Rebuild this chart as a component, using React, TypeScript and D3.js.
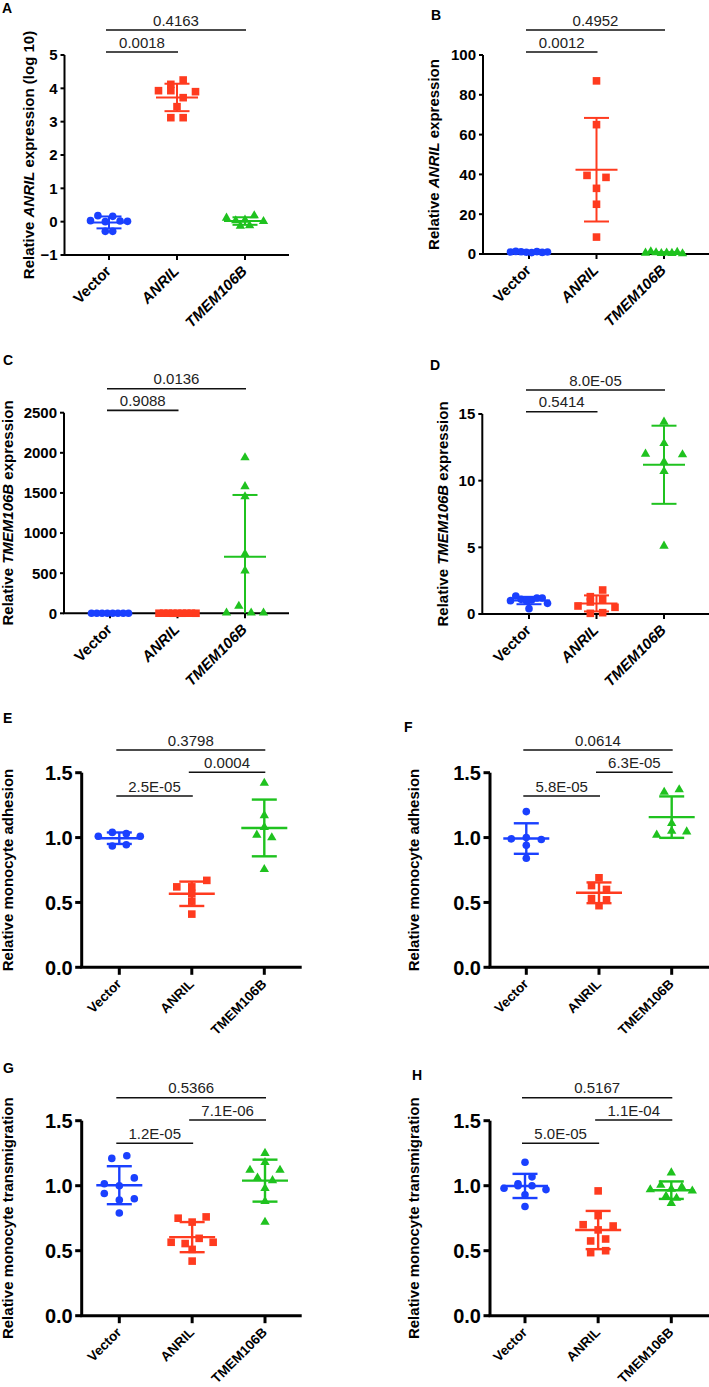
import React from 'react';
import * as d3 from 'd3';

const categories = ['Vector', 'ANRIL', 'TMEM106B'];
const colors = ['#1a40ff', '#ff3b1f', '#1fc21f'];
const shapes = ['circle', 'square', 'triangle'];

// Panel A: Relative ANRIL expression (log 10)
const aVector = [0.03, 0.18, 0.0, 0.16, 0.02, 0.01, -0.29, -0.29];
const aANRIL = [3.93, 3.93, 4.12, 4.25, 3.72, 3.9, 3.45, 3.12, 3.12];
const aTMEM = [0.11, -0.13, 0.03, 0.05, 0.18, -0.12, 0.01];
const aTicks = [-1, 0, 1, 2, 3, 4, 5];
const aP = ['0.0018', '0.4163'];

// Panel B: Relative ANRIL expression
const bVector = [1.0, 1.3, 1.1, 0.9, 0.7, 1.2, 0.8, 1.0];
const bANRIL = [87, 65, 39.5, 38.5, 33, 25, 8.5];
const bTMEM = [0.5, 1.2, 0.7, 0.3, 0.6, 0.4, 0.9, 0.2];
const bTicks = [0, 20, 40, 60, 80, 100];
const bP = ['0.0012', '0.4952'];

// Panel C: Relative TMEM106B expression
const cVector = [1.0, 1.1, 0.9, 1.2, 0.8, 1.0, 0.95, 1.05];
const cANRIL = [0.9, 1.1, 1.3, 0.7, 1.0, 0.8, 1.2, 1.0, 0.6];
const cTMEM = [1940, 1580, 1455, 740, 530, 5, 90, 5, 5];
const cTicks = [0, 500, 1000, 1500, 2000, 2500];
const cP = ['0.9088', '0.0136'];

// Panel D: Relative TMEM106B expression
const dVector = [1.0, 1.35, 1.1, 1.0, 1.05, 1.2, 1.2, 0.8, 0.4];
const dANRIL = [1.3, 0.6, 0.05, 0.9, 1.8, 0.1, 1.1, 0.5];
const dTMEM = [14.4, 12.8, 12.0, 11.4, 11.95, 10.7, 5.1];
const dTicks = [0, 5, 10, 15];
const dP = ['0.5414', '8.0E-05'];

// Panel E: Relative monocyte adhesion
const eVector = [1.01, 1.04, 1.03, 1.01, 0.935, 0.945];
const eANRIL = [0.62, 0.62, 0.67, 0.57, 0.51, 0.41];
const eTMEM = [1.42, 1.17, 1.08, 1.02, 1.0, 0.755];
const eP = ['2.5E-05', '0.0004', '0.3798'];

// Panel F: Relative monocyte adhesion
const fVector = [1.2, 0.99, 1.0, 0.985, 0.94, 0.84];
const fANRIL = [0.69, 0.63, 0.6, 0.53, 0.475, 0.52];
const fTMEM = [1.35, 1.37, 1.11, 1.02, 1.05, 1.045];
const fP = ['5.8E-05', '6.3E-05', '0.0614'];

// Panel G: Relative monocyte transmigration
const gVector = [1.21, 1.23, 1.015, 1.0, 1.06, 0.94, 0.89, 0.9, 0.79];
const gANRIL = [0.75, 0.72, 0.76, 0.565, 0.555, 0.595, 0.565, 0.51, 0.42];
const gTMEM = [1.25, 1.12, 1.18, 1.12, 1.06, 1.04, 0.98, 0.88, 0.72];
const gP = ['1.2E-05', '7.1E-06', '0.5366'];

// Panel H: Relative monocyte transmigration
const hVector = [1.18, 0.98, 1.015, 1.0, 1.0, 0.97, 1.068, 0.93, 0.84];
const hANRIL = [0.96, 0.77, 0.7, 0.66, 0.69, 0.575, 0.59, 0.485, 0.5];
const hTMEM = [1.1, 0.97, 1.005, 0.975, 0.99, 0.96, 0.92, 0.905, 0.865];
const hP = ['5.0E-05', '1.1E-04', '0.5167'];

const monoTicks = [0, 0.5, 1.0, 1.5];

const FONT = "'Liberation Sans', Arial, Helvetica, sans-serif";

type TitlePart = { text: string; italic?: boolean };
interface Bracket { from: number; to: number; label: string; offset: number }
interface Panel {
  letter: string; letterX: number; letterY: number;
  left: number; right: number; top: number; bottom: number;
  catFirst: number; catLast: number;
  domain: [number, number]; ticks: number[]; fmt: (v: number) => string;
  series: number[][];
  brackets: Bracket[];
  title: TitlePart[];
  titleX: number;
  small: boolean;
  vth: number;
}

const fmtInt = d3.format('d');
const fmt1 = d3.format('.1f');

const panels: Panel[] = [
  {
    letter: 'A', letterX: 2, letterY: 13, left: 64.5, right: 289, top: 55, bottom: 255,
    catFirst: 109, catLast: 245, domain: [-1, 5], ticks: aTicks, fmt: fmtInt,
    series: [aVector, aANRIL, aTMEM],
    brackets: [{ from: 0, to: 1, label: aP[0], offset: -3 }, { from: 0, to: 2, label: aP[1], offset: -25 }],
    title: [{ text: 'Relative ' }, { text: 'ANRIL', italic: true }, { text: ' expression (log 10)' }],
    titleX: 34, small: true, vth: 8.5,
  },
  {
    letter: 'B', letterX: 431, letterY: 20, left: 483, right: 709, top: 55, bottom: 254,
    catFirst: 529, catLast: 664, domain: [0, 100], ticks: bTicks, fmt: fmtInt,
    series: [bVector, bANRIL, bTMEM],
    brackets: [{ from: 0, to: 1, label: bP[0], offset: -3 }, { from: 0, to: 2, label: bP[1], offset: -25 }],
    title: [{ text: 'Relative ' }, { text: 'ANRIL', italic: true }, { text: ' expression' }],
    titleX: 439, small: true, vth: 8.5,
  },
  {
    letter: 'C', letterX: 3, letterY: 365, left: 64, right: 289, top: 412.7, bottom: 613.3,
    catFirst: 110, catLast: 245, domain: [0, 2500], ticks: cTicks, fmt: fmtInt,
    series: [cVector, cANRIL, cTMEM],
    brackets: [{ from: 0, to: 1, label: cP[0], offset: -2.3 }, { from: 0, to: 2, label: cP[1], offset: -24 }],
    title: [{ text: 'Relative ' }, { text: 'TMEM106B', italic: true }, { text: ' expression' }],
    titleX: 12.5, small: true, vth: 8.5,
  },
  {
    letter: 'D', letterX: 430, letterY: 370, left: 482.3, right: 709, top: 414, bottom: 614,
    catFirst: 529, catLast: 664, domain: [0, 15], ticks: dTicks, fmt: fmtInt,
    series: [dVector, dANRIL, dTMEM],
    brackets: [{ from: 0, to: 1, label: dP[0], offset: -2.3 }, { from: 0, to: 2, label: dP[1], offset: -24 }],
    title: [{ text: 'Relative ' }, { text: 'TMEM106B', italic: true }, { text: ' expression' }],
    titleX: 448, small: true, vth: 8.5,
  },
  {
    letter: 'E', letterX: 3, letterY: 723, left: 81.7, right: 301.7, top: 772.7, bottom: 967.3,
    catFirst: 119.3, catLast: 264.3, domain: [0, 1.5], ticks: monoTicks, fmt: fmt1,
    series: [eVector, eANRIL, eTMEM],
    brackets: [{ from: 0, to: 1, label: eP[0], offset: 23.3 }, { from: 1, to: 2, label: eP[1], offset: -0.4 }, { from: 0, to: 2, label: eP[2], offset: -22.7 }],
    title: [{ text: 'Relative monocyte adhesion' }],
    titleX: 12.5, small: false, vth: 7,
  },
  {
    letter: 'F', letterX: 404, letterY: 732, left: 490, right: 709, top: 772.7, bottom: 967.3,
    catFirst: 526.3, catLast: 671.7, domain: [0, 1.5], ticks: monoTicks, fmt: fmt1,
    series: [fVector, fANRIL, fTMEM],
    brackets: [{ from: 0, to: 1, label: fP[0], offset: 23.3 }, { from: 1, to: 2, label: fP[1], offset: -0.4 }, { from: 0, to: 2, label: fP[2], offset: -22.7 }],
    title: [{ text: 'Relative monocyte adhesion' }],
    titleX: 419, small: false, vth: 7,
  },
  {
    letter: 'G', letterX: 3, letterY: 1073, left: 81.7, right: 301.7, top: 1120.7, bottom: 1315.7,
    catFirst: 119.3, catLast: 265, domain: [0, 1.5], ticks: monoTicks, fmt: fmt1,
    series: [gVector, gANRIL, gTMEM],
    brackets: [{ from: 0, to: 1, label: gP[0], offset: 22.6 }, { from: 1, to: 2, label: gP[1], offset: -0.7 }, { from: 0, to: 2, label: gP[2], offset: -23 }],
    title: [{ text: 'Relative monocyte transmigration' }],
    titleX: 12.5, small: false, vth: 8,
  },
  {
    letter: 'H', letterX: 412, letterY: 1080, left: 490, right: 709, top: 1120.7, bottom: 1315.7,
    catFirst: 525, catLast: 671.3, domain: [0, 1.5], ticks: monoTicks, fmt: fmt1,
    series: [hVector, hANRIL, hTMEM],
    brackets: [{ from: 0, to: 1, label: hP[0], offset: 22.6 }, { from: 1, to: 2, label: hP[1], offset: -0.7 }, { from: 0, to: 2, label: hP[2], offset: -23 }],
    title: [{ text: 'Relative monocyte transmigration' }],
    titleX: 419, small: false, vth: 7,
  },
];

function swarm(values: number[], y: (v: number) => number, vth: number, sDef: number, W: number): number[] {
  const idx = values.map((_, i) => i).sort((a, b) => values[b] - values[a]);
  const rows: number[][] = [];
  let startY = -Infinity;
  for (const i of idx) {
    const py = y(values[i]);
    if (rows.length && py - startY < vth) rows[rows.length - 1].push(i);
    else { rows.push([i]); startY = py; }
  }
  const maxN = d3.max(rows, r => r.length) ?? 1;
  const s = maxN > 1 ? Math.min(sDef, W / (maxN - 1)) : sDef;
  const off = new Array(values.length).fill(0);
  rows.forEach(r => {
    r.sort((a, b) => a - b);
    r.forEach((i, k) => { off[i] = (k - (r.length - 1) / 2) * s; });
  });
  return off;
}

const symCircle = d3.symbol().type(d3.symbolCircle).size(Math.PI * 3.8 * 3.8);
const symSquare = d3.symbol().type(d3.symbolSquare).size(7.6 * 7.6);
const symTri = d3.symbol().type(d3.symbolTriangle).size(38);

function markerPath(shape: string): string {
  if (shape === 'circle') return symCircle() as string;
  if (shape === 'square') return symSquare() as string;
  return symTri() as string;
}

function PanelView({ p }: { p: Panel }) {
  const y = d3.scaleLinear().domain(p.domain).range([p.bottom, p.top]);
  const x = d3.scaleLinear().domain([0, categories.length - 1]).range([p.catFirst, p.catLast]);
  const st = p.small
    ? { tickFont: 15, xFont: 15, axisW: 2, tickLen: 4, sDef: 19, W: 37, meanHalf: 21, capHalf: 12.5, ebW: 2, labelGap: 7 }
    : { tickFont: 20, xFont: 13.5, axisW: 3, tickLen: 6.5, sDef: 15, W: 42, meanHalf: 23, capHalf: 12.5, ebW: 2.4, labelGap: 9 };
  const cy = (p.top + p.bottom) / 2;
  const yMin = p.domain[0];
  return (
    <g>
      <text x={p.letterX} y={p.letterY} fontSize={14} fontWeight="bold" fontFamily={FONT}>{p.letter}</text>
      <text transform={`translate(${p.titleX},${cy}) rotate(-90)`} textAnchor="middle" fontSize={15}
        fontWeight="bold" fontFamily={FONT} style={{ whiteSpace: 'pre' }}>
        {p.title.map((t, i) => (
          <tspan key={i} fontStyle={t.italic ? 'italic' : 'normal'}>{t.text}</tspan>
        ))}
      </text>
      {/* y axis */}
      <line x1={p.left} x2={p.left} y1={p.top} y2={p.bottom} stroke="#000" strokeWidth={st.axisW} />
      {p.ticks.map(t => (
        <g key={t}>
          <line x1={p.left - st.tickLen} x2={p.left} y1={y(t)} y2={y(t)} stroke="#000" strokeWidth={st.axisW} />
          <text x={p.left - st.labelGap} y={y(t)} dy="0.36em" textAnchor="end" fontSize={st.tickFont}
            fontWeight="bold" fontFamily={FONT}>{p.fmt(t)}</text>
        </g>
      ))}
      {/* x axis */}
      <line x1={p.left - st.axisW / 2} x2={p.right} y1={p.bottom} y2={p.bottom} stroke="#000" strokeWidth={st.axisW} />
      {categories.map((c, i) => (
        <g key={c}>
          <line x1={x(i)} x2={x(i)} y1={p.bottom} y2={p.bottom + st.tickLen + 1} stroke="#000" strokeWidth={st.axisW} />
          <text transform={`translate(${x(i) + 3},${p.bottom + (p.small ? 17 : 17.5)}) rotate(-45)`} textAnchor="end"
            fontSize={st.xFont} fontWeight="bold" fontStyle={p.small && i > 0 ? 'italic' : 'normal'}
            fontFamily={FONT}>{c}</text>
        </g>
      ))}
      {/* data */}
      {p.series.map((vals, si) => {
        const offs = swarm(vals, y, p.vth, st.sDef, st.W);
        const m = d3.mean(vals) as number;
        const sd = d3.deviation(vals) as number;
        const lo = m - sd;
        const loClipped = lo < yMin;
        const cx = x(si);
        const col = colors[si];
        const path = markerPath(shapes[si]);
        return (
          <g key={si}>
            {vals.map((v, k) => (
              <path key={k} d={path} transform={`translate(${cx + offs[k]},${y(v)})`} fill={col} />
            ))}
            <line x1={cx - st.meanHalf} x2={cx + st.meanHalf} y1={y(m)} y2={y(m)} stroke={col} strokeWidth={st.ebW} />
            <line x1={cx} x2={cx} y1={y(loClipped ? yMin : lo)} y2={y(m + sd)} stroke={col} strokeWidth={st.ebW} />
            <line x1={cx - st.capHalf} x2={cx + st.capHalf} y1={y(m + sd)} y2={y(m + sd)} stroke={col} strokeWidth={st.ebW} />
            {!loClipped && (
              <line x1={cx - st.capHalf} x2={cx + st.capHalf} y1={y(lo)} y2={y(lo)} stroke={col} strokeWidth={st.ebW} />
            )}
          </g>
        );
      })}
      {/* p-value brackets */}
      {p.brackets.map((b, i) => {
        const by = p.top + b.offset;
        const x1 = x(b.from) - 3;
        const x2 = x(b.to) + 1;
        return (
          <g key={i}>
            <line x1={x1} x2={x2} y1={by} y2={by} stroke="#111" strokeWidth={1.6} />
            <text x={(x1 + x2) / 2} y={by - 4.5} textAnchor="middle" fontSize={15} fontFamily={FONT} fill="#222">{b.label}</text>
          </g>
        );
      })}
    </g>
  );
}

export default function App() {
  return (
    <svg width={709} height={1387} viewBox="0 0 709 1387"
      style={{ position: 'absolute', left: 0, top: 0, background: '#fff' }}>
      <rect x={0} y={0} width={709} height={1387} fill="#fff" />
      {panels.map(p => <PanelView key={p.letter} p={p} />)}
    </svg>
  );
}
